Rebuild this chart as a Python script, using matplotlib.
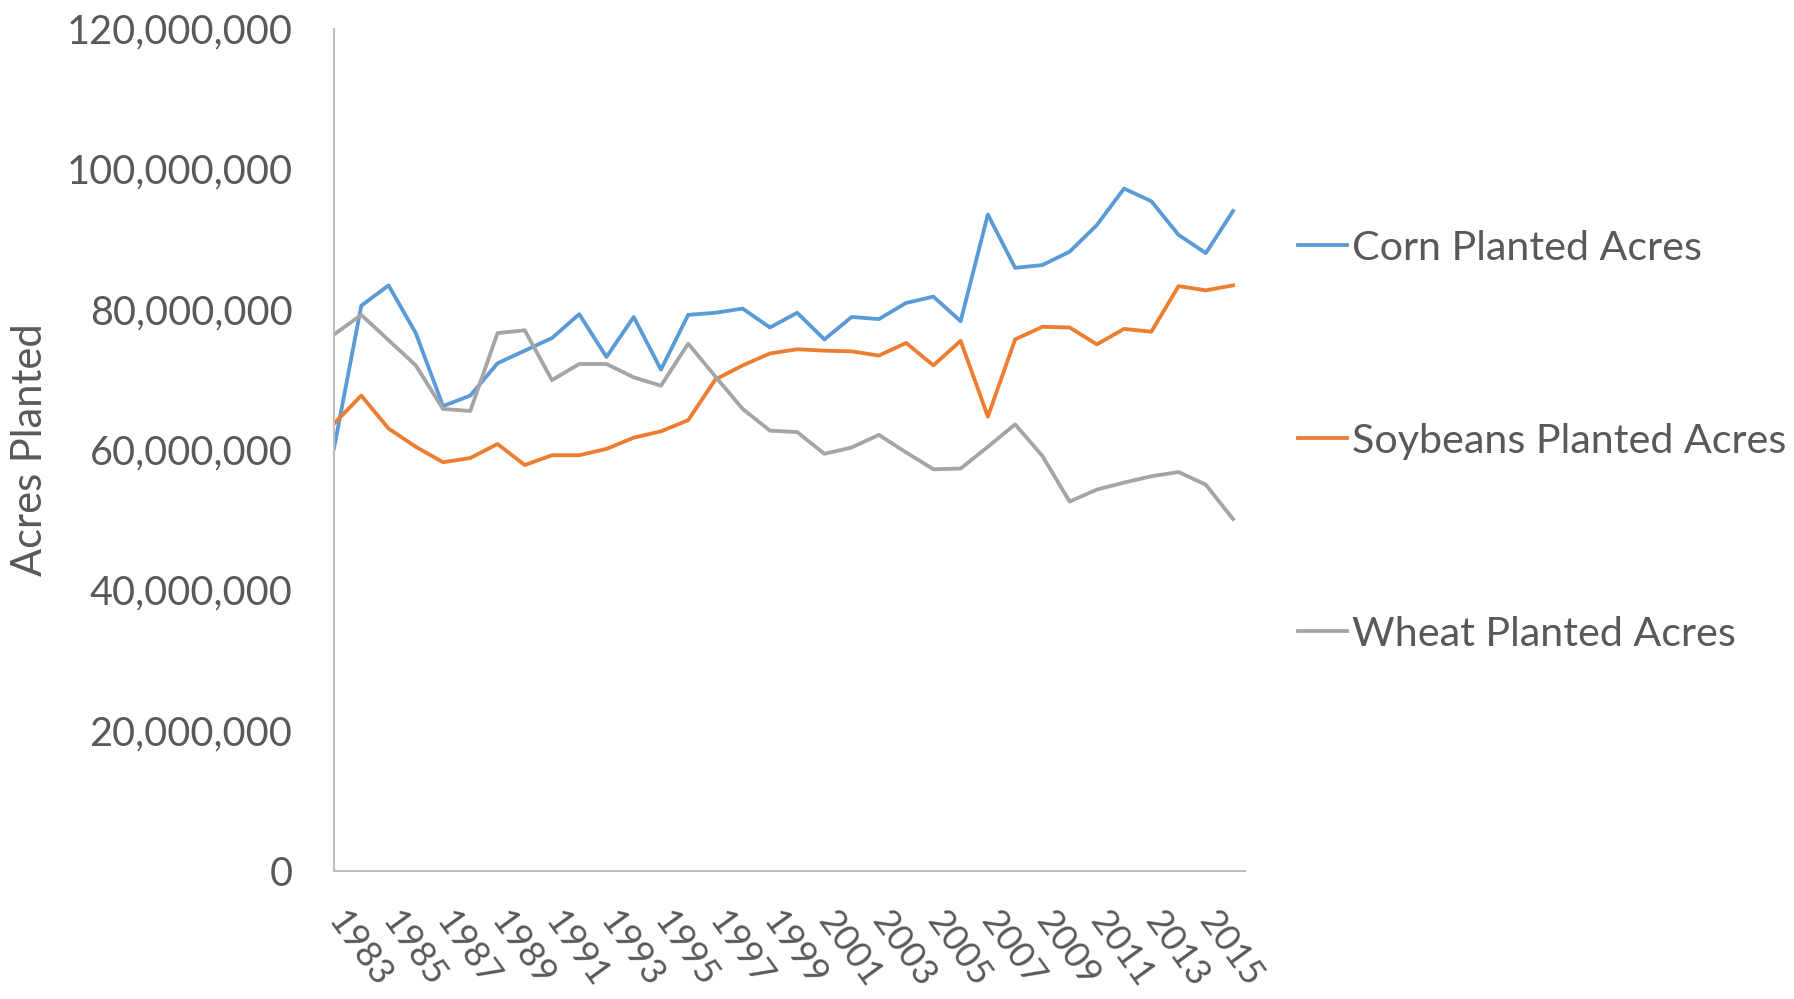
# 1983~2016 미국 작물 재배 면적 라인 차트
# corn / soybeans / wheat planted acres line chart

import matplotlib
matplotlib.use('Agg')
import matplotlib.pyplot as plt
from matplotlib.ticker import FuncFormatter

# data (million acres)
years = list(range(1983, 2017))

corn = [60.2, 80.5, 83.4, 76.6, 66.2, 67.7, 72.3, 74.1, 75.9, 79.3,
        73.2, 78.9, 71.4, 79.2, 79.5, 80.1, 77.4, 79.5, 75.7, 78.9,
        78.6, 80.9, 81.8, 78.3, 93.5, 85.9, 86.3, 88.2, 92.0, 97.2,
        95.4, 90.6, 88.0, 94.0]

soybeans = [63.7, 67.7, 63.0, 60.4, 58.2, 58.8, 60.8, 57.8, 59.2, 59.2,
            60.1, 61.7, 62.6, 64.2, 70.0, 72.0, 73.7, 74.3, 74.1, 74.0,
            73.4, 75.2, 72.0, 75.5, 64.7, 75.7, 77.5, 77.4, 75.0, 77.2,
            76.8, 83.3, 82.7, 83.4]

wheat = [76.4, 79.2, 75.6, 72.0, 65.8, 65.5, 76.6, 77.0, 69.9, 72.2,
         72.2, 70.3, 69.1, 75.1, 70.4, 65.8, 62.7, 62.5, 59.4, 60.3,
         62.1, 59.6, 57.2, 57.3, 60.4, 63.6, 59.1, 52.6, 54.3, 55.3,
         56.2, 56.8, 55.0, 50.1]

series_names = ['Corn Planted Acres', 'Soybeans Planted Acres', 'Wheat Planted Acres']
series_colors = ['#5B9BD5', '#ED7D31', '#A5A5A5']

label_years = years[::2]
y_ticks = [0, 20e6, 40e6, 60e6, 80e6, 100e6, 120e6]

text_color = '#595959'
font = 'Lato'

fig = plt.figure(figsize=(17.94, 9.99), dpi=100)
ax = fig.add_axes([0.1862, 0.1285, 0.5078, 0.8429])

for vals, name, col in zip([corn, soybeans, wheat], series_names, series_colors):
    ax.plot(years, [v * 1e6 for v in vals], color=col, lw=2.75,
            label=name, solid_joinstyle='round')

ax.set_xlim(1983, 2016.44)
ax.set_ylim(0, 120e6)
ax.set_yticks(y_ticks)
ax.yaxis.set_major_formatter(FuncFormatter(lambda v, p: f'{int(v):,}'))
ax.set_xticks(label_years)
ax.set_xticklabels([str(y) for y in label_years], rotation=-54,
                   ha='left', va='center', rotation_mode='anchor')

ax.tick_params(axis='both', length=0, labelcolor=text_color, labelsize=28.5)
ax.tick_params(axis='x', labelsize=26, pad=32)
ax.tick_params(axis='y', pad=30)
for lab in ax.get_xticklabels() + ax.get_yticklabels():
    lab.set_fontfamily(font)

for side in ['top', 'right']:
    ax.spines[side].set_visible(False)
for side in ['left', 'bottom']:
    ax.spines[side].set_color('#BFBFBF')
    ax.spines[side].set_linewidth(1.5)

fig.text(0.0167, 0.55, 'Acres Planted', rotation=90, ha='center', va='center',
         fontsize=30, color=text_color, family=font)

leg = ax.legend(loc='upper left', bbox_to_anchor=(0.7235, 0.770),
                bbox_transform=fig.transFigure, frameon=False,
                handlelength=1.2, handletextpad=0.12, borderpad=0,
                borderaxespad=0, labelspacing=3.78,
                prop={'family': font, 'size': 29.7})
for t in leg.get_texts():
    t.set_color(text_color)

fig.savefig('out.png', dpi=100)
